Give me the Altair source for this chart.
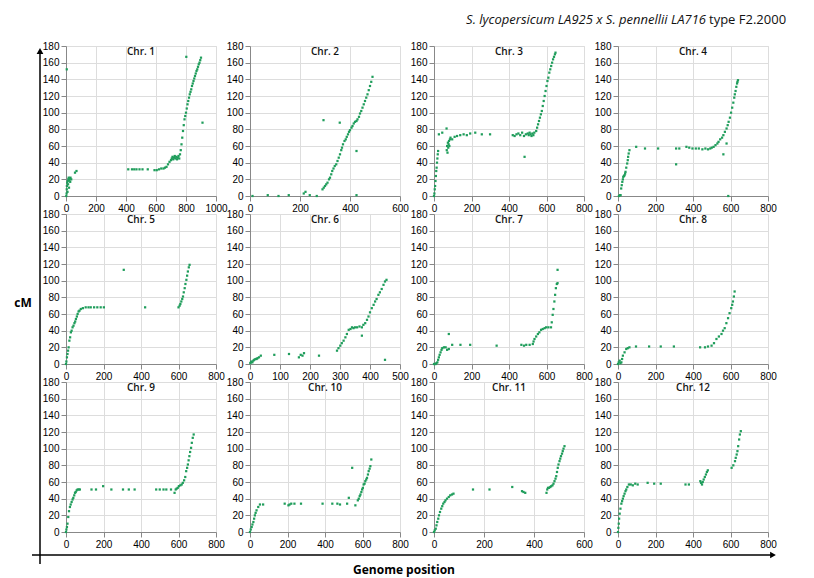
import altair as alt
import pandas as pd

GREEN = "#1f9d5b"

# ---- data: genome position vs cM ----
pos1 = [2,4,5,6,8,10,12,14,15,18,20,22,25,28,30,35,60,70, 5, 415,440,455,470,490,510,545,
        590,605,620,635,650,660,670,680,690,700,705,710,715,720,725,730,735,740,745,750,755,760,
        765,770,775,780,785,790,795,800,805,810,815,820,825,830,835,840,845,850,855,860,865,870,
        875,880,885,890,895,900, 802,910]
cM1 = [0,3,8,12,16,5,18,14,20,22,10,19,21,17,22,20,28,30, 152, 32,32,32,32,32,32,32,
       31,31,32,33,33,34,35,38,41,43,45,47,44,46,48,45,47,44,46,48,45,50,
       55,62,70,78,85,92,96,100,105,110,114,118,122,125,128,132,135,138,141,144,147,150,
       152,155,158,160,163,166, 167,88]

pos2 = [10,71,114,155,215,222,239,267, 290,295,300,305,310,316,320,325,329,334,339,345,350,355,
        360,365,368,372,378,383,387,392,396,400,406,410,415,420,426,430,436,440,445,450,455,460,
        465,470,475,480,485,490, 294,359,426,426]
cM2 = [0,1,0,1,3,5,1,0, 8,10,12,14,16,20,22,26,30,33,36,38,42,46,
       50,55,58,62,66,68,71,74,77,79,82,84,87,89,90,92,95,99,102,106,110,114,
       118,122,127,132,137,143, 91,88,54,1]

pos3 = [0,2,4,6,8,10,12,14,16,18,20,22, 26,44,67, 68,70,72,74,76,78,80,82,85,88,
        97,110,123,140,158,175,193,220,255,299, 420,430,440,450,460,470,480,490,500,505,510,
        515,520,525,530,535, 483, 545,550,555,560,565,570,575,580,585,590,595,600,605,610,615,
        620,625,630,635,640,645,648]
cM3 = [0,3,8,12,18,24,30,34,40,45,50,54, 74,76,81, 55,60,52,64,58,62,66,60,68,70,
       68,71,72,73,74,73,75,76,74,74, 73,72,74,75,73,76,72,74,75,73,76,
       74,72,75,73,76, 47, 78,82,86,90,94,98,102,108,114,120,126,132,138,142,148,
       152,156,160,164,167,170,172]

pos4 = [5,10,14,17,20,23,26,28,32,35,38,40,44,49,52,54,57,61, 97,144,214,310,327,365,380,397,
        415,431,450,466,480,492, 310, 500,510,520,530,536,545,555,562,570,579,585,590,597,603,
        609,615,620,623,627,631,635,637,640, 562,579,588]
cM4 = [0,1,1,9,13,17,20,23,24,25,27,29,34,39,43,47,51,55, 59,57,57,57,57,59,58,57,
       57,57,56,57,56,57, 38, 58,59,61,63,65,68,70,73,77,81,85,89,94,100,
       106,112,118,122,126,131,135,137,139, 50,63,0]

pos5 = [0,2,5,8,11,14,18,22,26,30,35,40,45,49,53,58,62,67,72,79,90,105,120,132,150,167,185,202,
        308, 422, 600,606,610,615,620,624,628,633,637,642,646,650,655,659]
cM5 = [0,3,8,12,16,20,28,32,38,40,44,46,49,51,54,57,60,63,64,66,67,68,68,68,68,68,68,68,
       113, 68, 68,70,72,75,78,81,86,91,96,101,106,111,116,119]

pos6 = [1,3,5,8,11,14,18,22,25,30,36, 81,130,163,169,175,180,230, 290,295,301,306,312,318,323,
        329,335,340,345,350,357,365,373,378,384,390,395,400,406,412,417,422,428,433,439,445,450,
        455, 450,373]
cM6 = [1,2,3,2,4,5,6,6,7,8,10, 11,12,8,11,10,13,10, 16,19,22,25,28,32,36,
       41,42,44,43,44,44,45,44,47,49,53,57,62,67,71,75,78,83,86,90,95,99,
       101, 5,34]

pos7 = [0,4,9,13,18,22,26,30,35,40,44,53,62,70,79, 79, 97,141,193,334,466,480,492, 510,527,531,
        536,545,554,562,571,580,590,598,610,624,628,633,637,642,646,650,655,659,659]
cM7 = [0,0,0,1,2,5,8,11,14,17,19,20,20,17,18, 36, 23,23,23,22,23,22,23, 23,24,27,
       30,33,36,38,41,42,43,44,44,44,50,59,66,75,83,91,96,97,113]

pos8 = [0,4,9,13,18,22,26,35,44,52,61, 96,166,228,298, 438,464,480,499,512,525,538,552,560,569,
        578,587,595,604,609,613,618,622]
cM8 = [0,2,4,1,2,6,10,14,18,19,20, 21,21,21,21, 20,20,21,22,25,30,33,36,40,43,
       49,55,61,67,71,75,81,87]

pos9 = [0,2,5,8,12,16,21,25,30,35,39,44,48,52,57,62,68,74, 136,160,198,242,304,335,366,481,500,
        520,535,560, 579, 585,590,596,602,610,617,623,630,636,641,646,650,654,658,662,667,671,676,681]
cM9 = [0,3,6,10,18,25,30,33,36,39,41,44,47,48,50,51,51,51, 51,51,55,51,51,51,51,51,51,
       51,51,51, 47, 51,52,53,55,56,57,59,62,66,73,77,81,86,91,96,101,107,113,117]

pos10 = [0,4,9,13,18,22,26,30,35,44,53,70, 185,205,211,220,237,272,387,439,466,480,518,527, 545,
         562,575,580,585,589,594,598,602,606,611,615,620,624,629,633,638,642,647]
cM10 = [0,3,6,9,12,16,20,23,26,30,33,33, 34,32,33,34,34,34,34,34,34,33,34,41, 77,
        32,38,40,43,45,48,51,53,57,58,61,63,65,69,73,76,79,87]

pos11 = [0,3,7,10,13,17,20,24,29,33,37,42,46,52,59,65,72,78, 156,222,313,352,358,365,
         450,453,456,460,465,469,474,478,482,486,489,492,495,498,502,505,508,512,515,518,522]
cM11 = [0,2,4,8,12,16,20,24,28,31,34,36,38,40,42,44,45,46, 51,51,54,49,48,47,
        47,51,53,53,54,55,56,58,61,64,67,72,77,81,85,88,91,94,97,100,103]

pos12 = [0,2,4,6,9,13,18,22,26,30,35,40,44,50,58,68,79,92,105, 158,193,228,360,378,
         439,443,448,452,457,463,469,474,479, 606,615,624,628,633,637,641,646,650,655]
cM12 = [0,5,10,16,22,28,34,37,40,43,46,49,51,54,57,57,56,58,57, 59,58,58,57,57,
        61,59,57,60,63,66,69,72,74, 77,80,85,89,93,97,103,111,117,121]

positions = [pos1, pos2, pos3, pos4, pos5, pos6, pos7, pos8, pos9, pos10, pos11, pos12]
cms = [cM1, cM2, cM3, cM4, cM5, cM6, cM7, cM8, cM9, cM10, cM11, cM12]
x_max = [1000, 600, 800, 800, 800, 500, 800, 800, 800, 800, 600, 800]
x_step = [200, 200, 200, 200, 200, 100, 200, 200, 200, 200, 200, 200]
y_ticks = [0, 20, 40, 60, 80, 100, 120, 140, 160, 180]

title_italic = "S. lycopersicum LA925  x  S. pennellii LA716"
title_plain = "type F2.2000"
y_label = "cM"
x_label = "Genome position"

W, H = 150, 150
COLSP, ROWSP = 34, 18
FONT = "Open Sans"


def text_layer(txt, x, y, **kw):
    return alt.Chart(pd.DataFrame({"t": [txt]})).mark_text(font=FONT, **kw).encode(
        text="t:N", x=alt.value(x), y=alt.value(y))


one = pd.DataFrame({"a": [0]})


def panel(i):
    df = pd.DataFrame({"pos": positions[i], "cM": cms[i]})
    xm, st = x_max[i], x_step[i]
    pts = alt.Chart(df).mark_point(filled=True, shape="square", size=5,
                                   color=GREEN, opacity=1).encode(
        x=alt.X("pos:Q", scale=alt.Scale(domain=[0, xm], nice=False),
                axis=alt.Axis(values=list(range(0, xm + 1, st)), title=None,
                              labelOverlap=False, labelFlush=False, format="d")),
        y=alt.Y("cM:Q", scale=alt.Scale(domain=[0, 180], nice=False),
                axis=alt.Axis(values=y_ticks, title=None, labelOverlap=False)),
    )
    layers = [pts, text_layer(f"Chr. {i + 1}", W / 2, 6, fontSize=10, fontWeight=600,
                              color="#111111", baseline="middle")]
    if i == 0:
        # outer vertical arrow (left of the whole grid)
        layers += [
            alt.Chart(one).mark_rule(color="black", strokeWidth=1.5).encode(
                x=alt.value(-26), y=alt.value(6), y2=alt.value(518)),
            alt.Chart(one).mark_point(shape="triangle-up", filled=True, size=45,
                                      color="black", opacity=1).encode(
                x=alt.value(-26), y=alt.value(5)),
        ]
    if i == 3:
        layers += [
            text_layer(title_italic, 88, -22, fontSize=13, fontStyle="italic", align="right",
                       baseline="alphabetic", color="#111"),
            text_layer(title_plain, 91, -22, fontSize=13, align="left",
                       baseline="alphabetic", color="#111"),
        ]
    if i == 4:
        layers += [text_layer(y_label, -43, 89, fontSize=12, fontWeight="bold",
                              color="black", baseline="middle")]
    if i == 8:
        layers += [
            alt.Chart(one).mark_rule(color="black", strokeWidth=1.5).encode(
                x=alt.value(-34), x2=alt.value(706), y=alt.value(173)),
            alt.Chart(one).mark_point(shape="triangle-right", filled=True, size=45,
                                      color="black", opacity=1).encode(
                x=alt.value(707), y=alt.value(173)),
            text_layer(x_label, 338, 192, fontSize=12, fontWeight="bold",
                       color="black", baseline="alphabetic"),
        ]
    return alt.layer(*layers).properties(width=W, height=H)


chart = alt.concat(
    *[panel(i) for i in range(12)], columns=4,
    spacing={"row": ROWSP, "column": COLSP}, bounds="flush"
).configure_view(
    stroke=None
).configure_axis(
    grid=False,
    domainColor="#d4d4d4",
    tickColor="#cfcfcf",
    tickSize=3,
    labelColor="#999999",
    labelFont=FONT,
    labelFontSize=7,
    labelPadding=3,
).configure(background="white")

chart.save("out.html", embed_options={"renderer": "svg", "actions": False})
